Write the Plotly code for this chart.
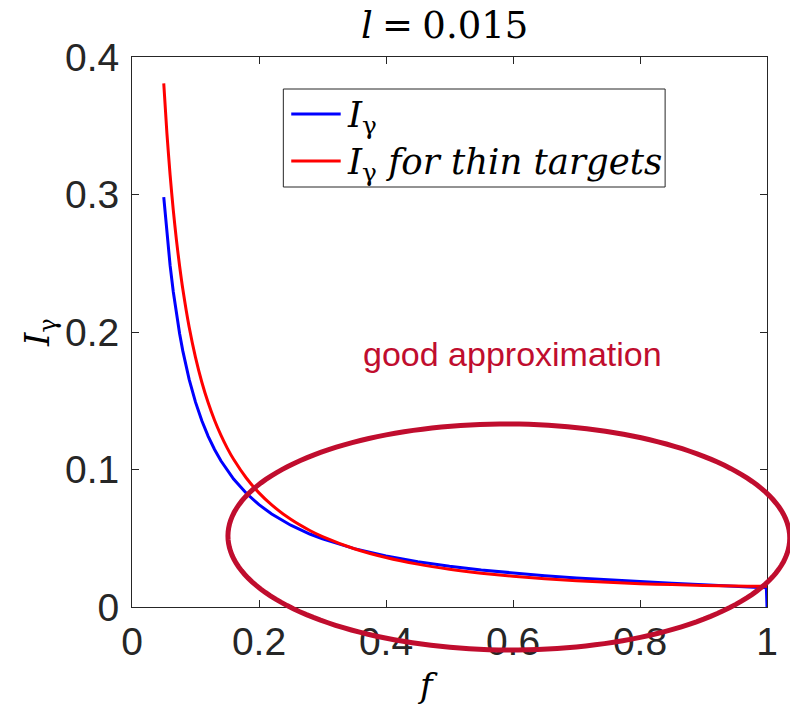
import math
import plotly.graph_objects as go

# Photon yield I_gamma versus photon energy fraction f for a target of thickness l = 0.015
f_vals = [0.05, 0.055, 0.06, 0.065, 0.07, 0.075, 0.08, 0.09, 0.10, 0.11, 0.12, 0.13,
          0.14, 0.15, 0.16, 0.18, 0.20, 0.22, 0.25, 0.28, 0.30, 0.35, 0.40, 0.45,
          0.50, 0.55, 0.60, 0.65, 0.70, 0.75, 0.80, 0.85, 0.90, 0.95, 0.99, 0.999, 1.0]

i_gamma = [0.29812, 0.27100, 0.24840, 0.22928, 0.21289, 0.19868, 0.18626, 0.16554,
           0.14897, 0.13542, 0.12413, 0.11456, 0.10637, 0.09927, 0.09305, 0.08269,
           0.07440, 0.06762, 0.05948, 0.05309, 0.04953, 0.04243, 0.03710, 0.03294,
           0.02961, 0.02690, 0.02463, 0.02270, 0.02105, 0.01961, 0.01834, 0.01721,
           0.01619, 0.01524, 0.01439, 0.01394, 0.0]

i_gamma_thin = [0.38075, 0.34446, 0.31423, 0.28867, 0.26676, 0.24779, 0.23120, 0.20357,
                0.18150, 0.16347, 0.14847, 0.13580, 0.12496, 0.11558, 0.10740, 0.09381,
                0.08300, 0.07421, 0.06375, 0.05563, 0.05117, 0.04239, 0.03600, 0.03119,
                0.02750, 0.02461, 0.02233, 0.02052, 0.01907, 0.01792, 0.01700, 0.01628,
                0.01572, 0.01530, 0.01505, 0.01501, 0.01500]

series_names = ["<i>I</i><sub>γ</sub>",
                "<i>I</i><sub>γ</sub><i> for thin targets</i>"]
series_colors = ["#0000FF", "#FF0000"]

x_ticks = [0, 0.2, 0.4, 0.6, 0.8, 1.0]
x_tick_text = ["0", "0.2", "0.4", "0.6", "0.8", "1"]
y_ticks = [0, 0.1, 0.2, 0.3, 0.4]
y_tick_text = ["0", "0.1", "0.2", "0.3", "0.4"]

W, H = 790, 707
M_L, M_R, M_T, M_B = 132, 16, 57, 100
PW, PH = W - M_L - M_R, H - M_T - M_B

SANS = "Liberation Sans, Arial, Helvetica, sans-serif"
SERIF = "DejaVu Serif, Liberation Serif, serif"
INK = "#262626"
MARK = "#C00D2E"


def px_x(p):
    """Horizontal pixel offset in the figure -> paper coordinate."""
    return (p - M_L) / PW


def px_y(p):
    """Vertical pixel offset from the top of the figure -> paper coordinate."""
    return (H - M_B - p) / PH


fig = go.Figure()
fig.add_trace(go.Scatter(
    x=f_vals, y=i_gamma, mode="lines", showlegend=False,
    line=dict(color=series_colors[0], width=3),
    name="I_gamma"))
fig.add_trace(go.Scatter(
    x=f_vals, y=i_gamma_thin, mode="lines", showlegend=False,
    line=dict(color=series_colors[1], width=3, shape="spline", smoothing=0.6),
    name="I_gamma for thin targets"))

shapes = []

# highlight ellipse around the region where both curves agree
cx, cy = px_x(513), px_y(537)
a_px, b_px, tilt = 284.0, 113.0, math.radians(-0.25)
pts = []
for k in range(0, 181):
    t = 2 * math.pi * k / 180
    dx = a_px * math.cos(t) * math.cos(tilt) - b_px * math.sin(t) * math.sin(tilt)
    dy = a_px * math.cos(t) * math.sin(tilt) + b_px * math.sin(t) * math.cos(tilt)
    pts.append((cx + dx / PW, cy + dy / PH))
path = "M " + " L ".join(f"{px:.5f},{py:.5f}" for px, py in pts) + " Z"
shapes.append(dict(type="path", path=path, xref="paper", yref="paper",
                   line=dict(color=MARK, width=5), layer="above"))

# legend box with line samples
shapes.append(dict(type="rect", xref="paper", yref="paper",
                   x0=px_x(285), x1=px_x(671), y0=px_y(187), y1=px_y(89),
                   fillcolor="white", line=dict(color=INK, width=1), layer="above"))
legend_rows = [114, 161]
for row, color in zip(legend_rows, series_colors):
    shapes.append(dict(type="line", xref="paper", yref="paper",
                       x0=px_x(293), x1=px_x(343), y0=px_y(row), y1=px_y(row),
                       line=dict(color=color, width=3), layer="above"))

annotations = []
for row, label in zip(legend_rows, series_names):
    annotations.append(dict(text=label, x=px_x(347), y=px_y(row + 3),
                            xref="paper", yref="paper", xanchor="left", yanchor="middle",
                            showarrow=False,
                            font=dict(family=SERIF, size=35.5, color="#000000")))

annotations += [
    dict(text="good approximation", x=px_x(516.5), y=px_y(354), xref="paper", yref="paper",
         xanchor="center", yanchor="middle", showarrow=False,
         font=dict(family=SANS, size=34, color=MARK)),
    dict(text="<i>l</i>\u2005=\u20050.015", x=px_x(448), y=px_y(26), xref="paper", yref="paper",
         xanchor="center", yanchor="middle", showarrow=False,
         font=dict(family=SERIF, size=37, color="#000000")),
    dict(text="<i>I</i><sub>γ</sub>", x=px_x(38), y=px_y(333), xref="paper", yref="paper",
         xanchor="center", yanchor="middle", showarrow=False, textangle=-90,
         font=dict(family=SERIF, size=34, color="#000000")),
    dict(text="<i>f</i>", x=px_x(431), y=px_y(685), xref="paper", yref="paper",
         xanchor="center", yanchor="middle", showarrow=False,
         font=dict(family=SERIF, size=34, color="#000000")),
]

axis_common = dict(
    showgrid=False, zeroline=False, showline=True, linecolor=INK, linewidth=1,
    mirror="ticks", ticks="inside", ticklen=7, tickcolor=INK, tickwidth=1,
    tickfont=dict(family=SANS, size=39, color=INK),
)

fig.update_layout(
    width=W, height=H, autosize=False,
    margin=dict(l=M_L, r=M_R, t=M_T, b=M_B),
    paper_bgcolor="white", plot_bgcolor="white",
    xaxis=dict(range=[0, 1], tickvals=x_ticks, ticktext=x_tick_text, **axis_common),
    yaxis=dict(range=[0, 0.4], tickvals=y_ticks, ticktext=y_tick_text,
               ticklabelstandoff=4, **axis_common),
    shapes=shapes,
    annotations=annotations,
    showlegend=False,
)

fig.write_html("out.html")
